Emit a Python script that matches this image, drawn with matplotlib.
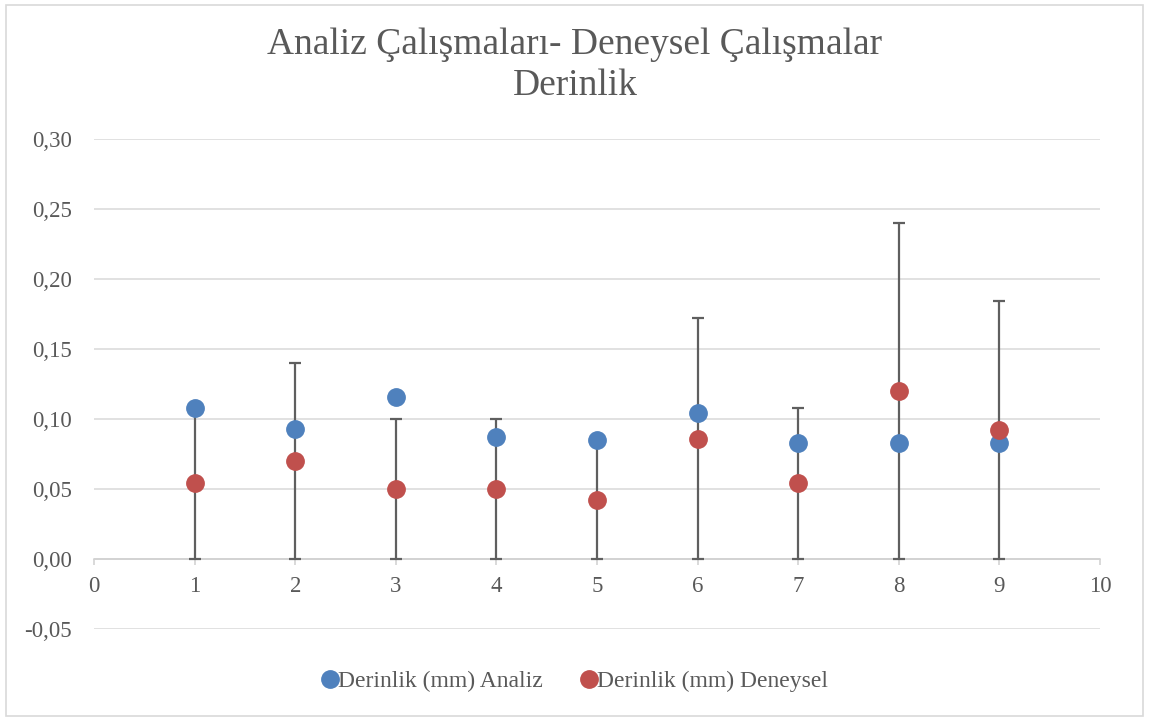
import numpy as np
import matplotlib.pyplot as plt
from matplotlib.patches import Rectangle

plt.rcParams['font.family'] = ['Liberation Serif', 'DejaVu Serif']

# veri
numune = [1, 2, 3, 4, 5, 6, 7, 8, 9]
analiz = [0.108, 0.093, 0.116, 0.087, 0.085, 0.104, 0.083, 0.083, 0.083]
deneysel = [0.054, 0.070, 0.050, 0.050, 0.042, 0.086, 0.054, 0.120, 0.092]
hata_ust = [0.107, 0.140, 0.100, 0.100, 0.085, 0.172, 0.108, 0.240, 0.184]  # hata cubugu ust ucu
y_ticks = [-0.05, 0.00, 0.05, 0.10, 0.15, 0.20, 0.25, 0.30]
x_ticks = list(range(0, 11))

mavi = '#4F81BD'
kirmizi = '#C0504D'
gri = '#595959'

fig = plt.figure(figsize=(11.5, 7.2), dpi=100)
ax = fig.add_axes([94/1150, 1 - 629/720, (1100-94)/1150, (629-139)/720])

# hata cubuklari: 0'dan ust uca kadar
den = np.array(deneysel)
yerr = [den, np.array(hata_ust) - den]
ax.errorbar(numune, deneysel, yerr=yerr, fmt='none', ecolor='#5f5f5f',
            elinewidth=1.6, capsize=4.5, capthick=1.6, zorder=2.7)

ax.plot(numune, analiz, 'o', color=mavi, ms=12.5, mec=mavi, zorder=3,
        label='Derinlik (mm) Analiz')
ax.plot(numune, deneysel, 'o', color=kirmizi, ms=12.5, mec=kirmizi, zorder=4,
        label='Derinlik (mm) Deneysel')

ax.set_xlim(0, 10)
ax.set_ylim(-0.05, 0.30)
ax.set_yticks(y_ticks)
ax.set_yticklabels([('%.2f' % v).replace('.', ',') for v in y_ticks])
ax.set_xticks(x_ticks)
ax.set_xticklabels([str(v) for v in x_ticks])

ax.grid(axis='y', color='#D9D9D9', lw=1.1, zorder=0)
for s in ['top', 'right', 'left']:
    ax.spines[s].set_visible(False)
ax.spines['bottom'].set_position(('data', 0))
ax.spines['bottom'].set_color('#D0D0D0')
ax.spines['bottom'].set_linewidth(1.1)
ax.tick_params(axis='x', direction='out', length=4, color='#D0D0D0', width=1.1,
               pad=8, labelsize=16.5, labelcolor=gri)
ax.tick_params(axis='y', length=0, pad=16, labelsize=16.5, labelcolor=gri)

fig.text(0.5, 1 - 45/720, 'Analiz Çalışmaları- Deneysel Çalışmalar', ha='center',
         va='center', fontsize=27, color=gri)
fig.text(0.5, 1 - 86/720, 'Derinlik', ha='center', va='center', fontsize=27, color=gri)

fig.legend(loc='center', bbox_to_anchor=(0.5, 1 - 681/720), ncol=2, frameon=False,
           fontsize=17, handlelength=0.7, handletextpad=0.0, columnspacing=1.6,
           labelcolor=gri)

fig.patches.append(Rectangle((6/1150, 4/720), 1137/1150, 711/720, transform=fig.transFigure,
                             fill=False, edgecolor='#D9D9D9', lw=1.2))

fig.savefig('out.png', dpi=100)
